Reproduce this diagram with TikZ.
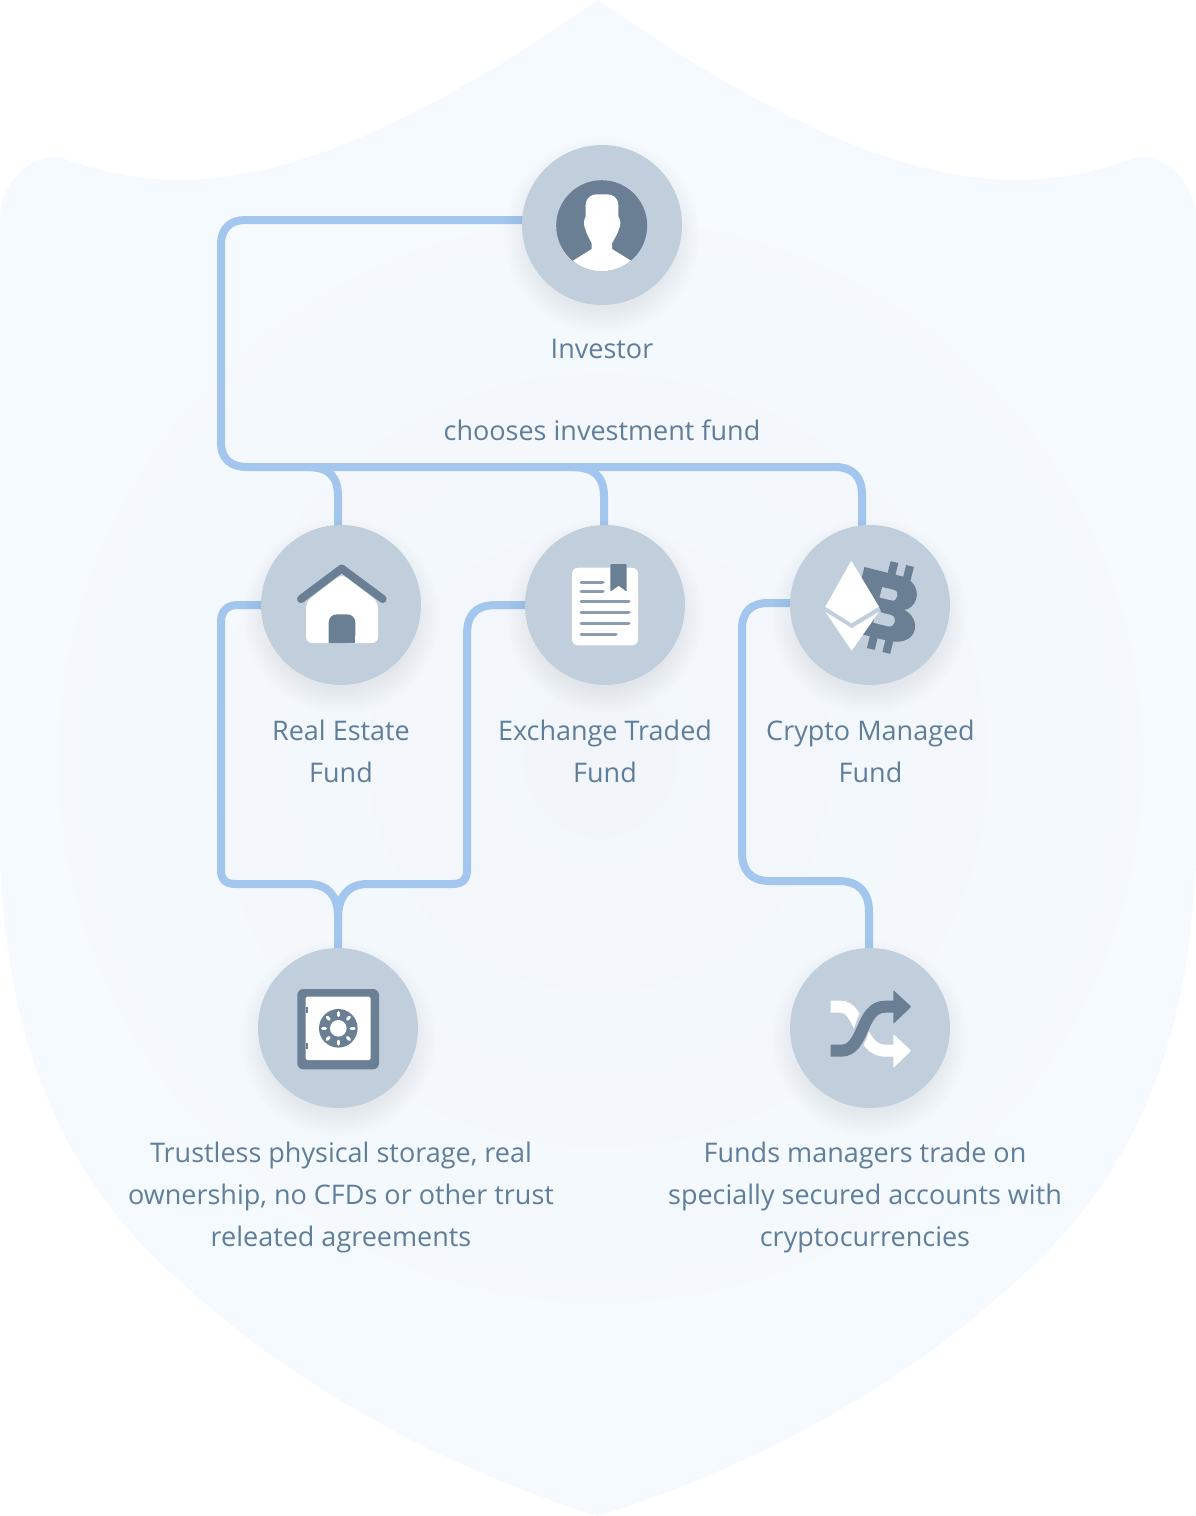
\documentclass[tikz,border=0pt]{standalone}
\usepackage{fontspec}
\setmainfont{Open Sans}
\usetikzlibrary{calc,backgrounds}
\definecolor{hubc}{HTML}{C1CFDC}
\definecolor{iconc}{HTML}{6A7F94}
\definecolor{linec}{HTML}{A3C6EF}
\definecolor{textc}{HTML}{5F7E9A}
\definecolor{shieldo}{HTML}{F5FAFE}
\definecolor{shieldi}{HTML}{F2F6FA}
\definecolor{rulec}{HTML}{8A9CAD}
\tikzset{
  hub/.style={circle,fill=hubc,minimum size=160pt,inner sep=0pt,outer sep=0pt},
  lbl/.style={text=textc,align=center,inner sep=0pt,font=\fontsize{27}{42}\selectfont},
  conn/.style={draw=linec,line width=8pt,line cap=butt,line join=round,shorten <=-3pt,shorten >=-3pt},
  halo/.style={fill=black!70!blue,opacity=0.0045},
  whitefill/.style={fill=white},
  iconfill/.style={fill=iconc},
  docline/.style={draw=rulec,line width=3pt,line cap=round},
}
\newcommand{\shieldpath}{(598,0) .. controls (440,110) and (300,180) .. (180,180) .. controls (130,180) and (90,168) .. (62,158) .. controls (30,152) and (0,185) .. (0,218) -- (0,850) .. controls (5,1040) and (60,1180) .. (190,1290) .. controls (300,1390) and (450,1470) .. (598,1516) .. controls (746,1470) and (896,1390) .. (1006,1290) .. controls (1136,1180) and (1191,1040) .. (1196,850) -- (1196,218) .. controls (1196,185) and (1166,152) .. (1134,158) .. controls (1106,168) and (1066,180) .. (1016,180) .. controls (896,180) and (756,110) .. (598,0) -- cycle}
\newcommand{\hubshadow}[1]{\foreach \r in {74,75.5,...,99}{\fill[halo] ($(#1.center)+(0,11)$) circle (\r pt);}}
\begin{document}
\begin{tikzpicture}[x=1pt,y=-1pt]
\useasboundingbox (0,0) rectangle (1196,1516);
\node[hub] (inv) at (602,225) {};
\node[hub] (re) at (341,605) {};
\node[hub] (etf) at (605,605) {};
\node[hub] (cry) at (870,605) {};
\node[hub] (safe) at (338,1028) {};
\node[hub] (shuf) at (870,1028) {};
\begin{pgfonlayer}{background}
  \begin{scope}
    \clip \shieldpath;
    \fill[shieldo] (0,0) rectangle (1196,1516);
    \shade[inner color=shieldi,outer color=shieldo] (600,760) circle (620);
  \end{scope}
  % connectors
  \draw[conn] ($(inv.center)+(-80,-5)$) -- (245,220) .. controls (230,220) and (221,229) .. (221,244) -- (221,443) .. controls (221,458) and (230,467) .. (247,467) -- (835,467) .. controls (853,467) and (862,477) .. (862,495) -- ($(cry.center)+(-8,-79.6)$);
  \draw[conn] (310,467) .. controls (330,467) and (338,477) .. (338,497) -- ($(re.center)+(-3,-80)$);
  \draw[conn] (574,467) .. controls (595,467) and (604,477) .. (604,497) -- ($(etf.center)+(-1,-80)$);
  \draw[conn] ($(re.center)+(-80,0)$) -- (238,605) .. controls (227,605) and (221,611) .. (221,622) -- (221,870) .. controls (221,880) and (226,884) .. (236,884) -- (308,884) .. controls (328,884) and (338,896) .. (338,916) -- ($(safe.center)+(0,-80)$);
  \draw[conn] ($(etf.center)+(-80,0)$) -- (497,605) .. controls (476,605) and (467,614) .. (467,635) -- (467,870) .. controls (467,880) and (462,884) .. (452,884) -- (368,884) .. controls (348,884) and (338,896) .. (338,916);
  \draw[conn] ($(cry.center)+(-80,-2)$) -- (768,603) .. controls (751,603) and (742,612) .. (742,629) -- (742,852) .. controls (742,871) and (751,881) .. (770,881) -- (838,881) .. controls (859,881) and (869,892) .. (869,912) -- ($(shuf.center)+(-1,-80)$);
  \hubshadow{inv}\hubshadow{re}\hubshadow{etf}\hubshadow{cry}\hubshadow{safe}\hubshadow{shuf}
\end{pgfonlayer}
% labels
\node[lbl] (tinv) at (602,349) {Investor};
\node[lbl] (tch) at (602,430) {chooses investment fund};
\node[lbl] (tre) at (341,751) {Real Estate\\Fund};
\node[lbl] (tetf) at (605,751) {Exchange Traded\\Fund};
\node[lbl] (tcry) at (870.5,751) {Crypto Managed\\Fund};
\node[lbl] (tsafe) at (341,1197) {Trustless physical storage, real\\ownership, no CFDs or other trust\\releated agreements};
\node[lbl] (tshuf) at (865,1197) {Funds managers trade on\\specially secured accounts with\\cryptocurrencies};
% person icon
\fill[iconfill] (601.7,225.7) circle (45.5);
\begin{scope}
  \clip (601.7,225.7) circle (45.5);
  \fill[whitefill] (560,268) -- (573,260.7) -- (591.7,249) -- (591.7,243.3) .. controls (589,238) and (586,233) .. (585,228) .. controls (583.5,226) and (583.5,220) .. (585.7,216.5) -- (585.7,205) .. controls (586,197) and (592,194.3) .. (597,194.3) -- (607,194.3) .. controls (612,194.3) and (618,197) .. (618.3,205) -- (618.3,216.5) .. controls (620.8,220) and (620.8,226) .. (619.3,228) .. controls (618,233) and (615,238) .. (612,243.3) -- (612,249) -- (631,260.7) -- (644,268) -- (644,280) -- (560,280) -- cycle;
\end{scope}
% house icon
\fill[whitefill,rounded corners=6pt] (306,601.7) -- (341.7,574) -- (378,601.7) -- (378,643) -- (306,643) -- cycle;
\draw[iconc,line width=8pt,line cap=round,line join=round] (301,599) -- (341.7,568.5) -- (382.7,599);
\fill[iconfill,rounded corners=8pt] (328.7,643) -- (328.7,614.3) -- (355.3,614.3) -- (355.3,643) [sharp corners] -- cycle;
\fill[iconfill] (328.7,630) rectangle (355.3,643);
% document icon
\fill[whitefill,rounded corners=6pt] (572,567.7) rectangle (638,645.3);
\fill[iconfill,rounded corners=1pt] (610.3,564) -- (626.7,564) -- (626.7,591.7) -- (618.7,585.7) -- (610.3,591.7) -- cycle;
\draw[docline] (581,582.3) -- (603,582.3);
\draw[docline] (581,591.7) -- (603,591.7);
\draw[docline] (581,601.7) -- (629,601.7);
\draw[docline] (581,612) -- (629,612);
\draw[docline] (581,623.7) -- (629,623.7);
\draw[docline] (581,634) -- (616,634);
% crypto icon
\begin{scope}[shift={(886.5,606.5)},rotate=-14]
  \fill[iconfill,even odd rule] (-31,-33) -- (6,-33) .. controls (21,-33) and (27,-23) .. (27,-15) .. controls (27,-8) and (23,-3) .. (18,-1) .. controls (27,1) and (33,8) .. (33,16) .. controls (33,27) and (22,33) .. (8,33) -- (-31,33) -- cycle
  (-9,-18) -- (3,-18) .. controls (7,-18) and (8,-15) .. (8,-12.5) .. controls (8,-9.5) and (7,-7) .. (3,-7) -- (-9,-7) -- cycle
  (-9,7) -- (6,7) .. controls (10,7) and (12,10) .. (12,13) .. controls (12,16) and (10,19) .. (6,19) -- (-9,19) -- cycle;
  \fill[iconfill] (-7,-45) rectangle (1,-30);
  \fill[iconfill] (9,-45) rectangle (17,-30);
  \fill[iconfill] (-9,30) rectangle (-1,45);
  \fill[iconfill] (7,30) rectangle (15,45);
\end{scope}
\fill[fill=hubc] (825.3,606.7) -- (851.5,623.3) -- (879,606.7) -- (881,612) -- (851.7,630) -- (823,611.7) -- cycle;
\fill[whitefill] (851.3,560.7) -- (879,606.7) -- (851.5,623.3) -- (825.3,606.7) -- cycle;
\fill[whitefill] (825.3,611.7) -- (851.7,628.3) -- (879,611.7) -- (851.7,650.7) -- cycle;
% safe icon
\fill[iconfill,rounded corners=6pt] (297.3,989) rectangle (379,1069.3);
\fill[whitefill,rounded corners=1.5pt] (305.7,996.7) rectangle (370.7,1060);
\fill[iconfill] (305.7,1007) rectangle (308.3,1013);
\fill[iconfill] (305.7,1043) rectangle (308.3,1049);
\fill[iconfill] (338.3,1028.3) circle (19.3);
\fill[whitefill] (338.3,1028.3) circle (8.3);
\foreach \a in {0,45,...,315}{\draw[white,line width=3pt,line cap=round] ($(338.3,1028.3)+(\a:12.8)$) -- ($(338.3,1028.3)+(\a:15.8)$);}
% shuffle icon
\draw[white,line width=12pt] (830.7,1006.7) -- (841,1006.7) .. controls (860,1006.7) and (860,1050.7) .. (885,1050.7) -- (895,1050.7);
\fill[whitefill,rounded corners=1pt] (893.3,1034) -- (911.3,1050.7) -- (893.3,1068) -- cycle;
\draw[hubc,line width=15pt] (846,1049) .. controls (866,1046) and (858,1009) .. (880,1007);
\draw[iconc,line width=12pt] (830.7,1050.7) -- (841,1050.7) .. controls (865,1050.7) and (860,1006.7) .. (885,1006.7) -- (895,1006.7);
\fill[iconfill,rounded corners=1pt] (893.3,990) -- (911.3,1006.7) -- (893.3,1024) -- cycle;
\end{tikzpicture}
\end{document}
